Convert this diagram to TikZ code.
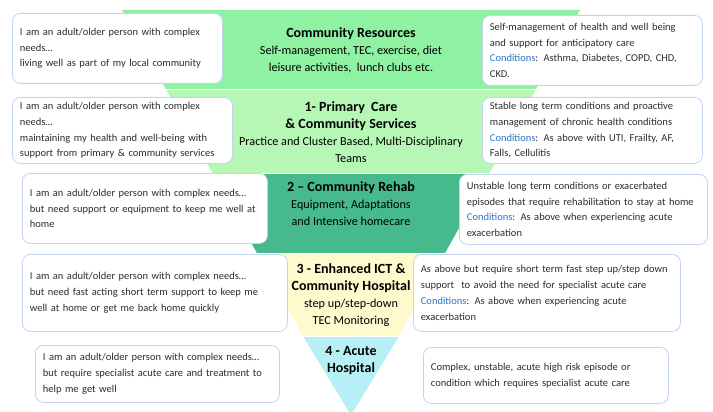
\documentclass[tikz,border=0pt]{standalone}
\usepackage{fontspec}
\setmainfont{Carlito}
\definecolor{lcr}{RGB}{142,242,162}
\definecolor{lpc}{RGB}{182,247,182}
\definecolor{lrh}{RGB}{70,186,140}
\definecolor{lict}{RGB}{255,249,206}
\definecolor{lac}{RGB}{182,240,246}
\definecolor{boxblue}{RGB}{196,212,238}
\definecolor{textgray}{RGB}{45,45,45}
\definecolor{condblue}{RGB}{46,117,200}
\newcommand{\cond}{\textcolor{condblue}{Conditions}}
\newcommand{\tbig}{\fontsize{14}{17.5}\selectfont\bfseries}
\begin{document}
\begin{tikzpicture}[x=1pt,y=-1pt,
  infobox/.style={draw=boxblue, line width=0.8pt, fill=white, rounded corners=8pt,
    align=left, inner xsep=7.5pt, inner ysep=0pt, anchor=north west,
    font=\fontsize{10.5}{15.7}\selectfont, text=textgray},
  tiertext/.style={align=center, inner sep=0pt, text=black,
    font=\fontsize{12.2}{17}\selectfont},
  sep/.style={draw=white, line width=1pt}
]
\useasboundingbox (0,0) rectangle (713,412);
% pyramid layers
\fill[lcr] (122,10) -- (580,10) -- (535.6,90) -- (166.4,90) -- cycle;
\fill[lpc] (166.4,90) -- (535.6,90) -- (489.5,173) -- (212.5,173) -- cycle;
\fill[lrh] (212.5,173) -- (489.5,173) -- (445.1,253) -- (256.9,253) -- cycle;
\fill[lict] (256.9,253) -- (445.1,253) -- (399.1,336) -- (302.9,336) -- cycle;
\fill[lac] (302.9,336) -- (399.1,336) -- (353,412) -- (349,412) -- cycle;
\draw[sep] (166.4,90) -- (535.6,90);
\draw[sep] (212.5,173) -- (489.5,173);
\draw[sep] (256.9,253) -- (445.1,253);
\draw[sep] (302.9,336) -- (399.1,336);
% tier texts
\node[tiertext] (t0) at (351,50.5) {{\tbig Community Resources}\\Self-management, TEC, exercise, diet\\leisure activities,\ \ lunch clubs etc.};
\node[tiertext] (t1) at (351,132.5) {{\tbig 1- Primary\ \ Care}\\{\tbig \& Community Services}\\Practice and Cluster Based, Multi-Disciplinary\\Teams};
\node[tiertext] (t2) at (351,204) {{\tbig 2 -- Community Rehab}\\Equipment, Adaptations\\and Intensive homecare};
\node[tiertext] (t3) at (351,295) {{\tbig 3 - Enhanced ICT \&}\\{\tbig Community Hospital}\\step up/step-down\\TEC Monitoring};
\node[tiertext] (t4) at (351,360.5) {{\tbig 4 - Acute}\\{\tbig Hospital}};
% left boxes
\node[infobox, text width=195pt, minimum height=70pt] (l0) at (12,13) {I am an adult/older person with complex\\needs\ldots\\living well as part of my local community};
\node[infobox, text width=205pt, minimum height=66pt] (l1) at (12,97) {I am an adult/older person with complex\\needs\ldots\\maintaining my health and well-being with\\support from primary \& community services};
\node[infobox, text width=230pt, minimum height=70pt] (l2) at (22,173) {I am an adult/older person with complex needs\ldots\\but need support or equipment to keep me well at\\home};
\node[infobox, text width=250pt, minimum height=77pt] (l3) at (22,254) {I am an adult/older person with complex needs\ldots\\but need fast acting short term support to keep me\\well at home or get me back home quickly};
\node[infobox, text width=229pt, minimum height=57pt] (l4) at (35,345) {I am an adult/older person with complex needs\ldots\\but require specialist acute care and treatment to\\help me get well};
% right boxes
\node[infobox, text width=205pt, minimum height=70pt] (r0) at (482,15) {Self-management of health and well being\\and support for anticipatory care\\\cond: Asthma, Diabetes, COPD, CHD,\\CKD.};
\node[infobox, text width=205pt, minimum height=66pt] (r1) at (482,97) {Stable long term conditions and proactive\\management of chronic health conditions\\\cond: As above with UTI, Frailty, AF,\\Falls, Cellulitis};
\node[infobox, text width=233pt, minimum height=70pt] (r2) at (459,174) {Unstable long term conditions or exacerbated\\episodes that require rehabilitation to stay at home\\\cond: As above when experiencing acute\\exacerbation};
\node[infobox, text width=252pt, minimum height=77pt] (r3) at (413,254) {As above but require short term fast step up/step down\\support\ \ to avoid the need for specialist acute care\\\cond: As above when experiencing acute\\exacerbation};
\node[infobox, text width=230pt, minimum height=56pt] (r4) at (423,347) {Complex, unstable, acute high risk episode or\\condition which requires specialist acute care};
\end{tikzpicture}
\end{document}
